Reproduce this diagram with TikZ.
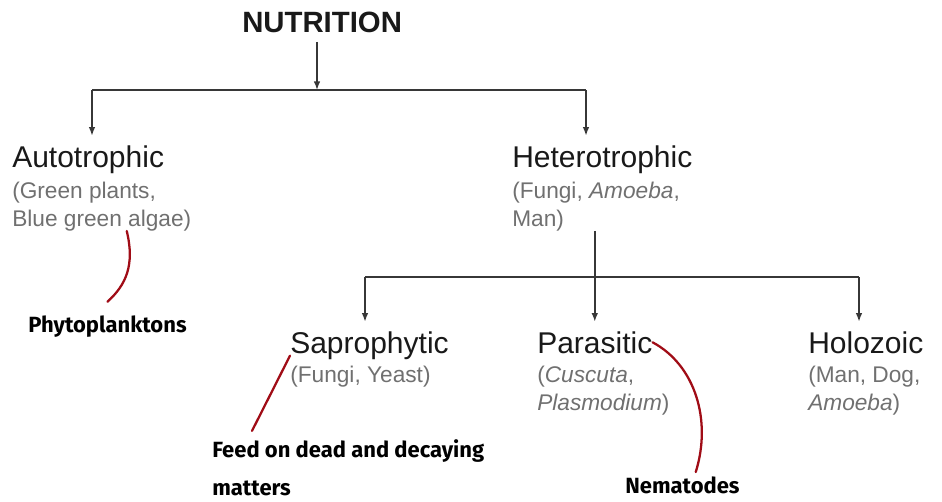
\documentclass[tikz,border=0pt]{standalone}
\usepackage{fontspec}
\setmainfont{Liberation Sans}
\newfontfamily\handfont{Fira Sans}
\usepackage{tikz}
\usetikzlibrary{arrows.meta,positioning}
\definecolor{linegray}{RGB}{55,55,55}
\definecolor{subgray}{RGB}{112,112,112}
\definecolor{notered}{RGB}{160,12,22}

\begin{document}
\begin{tikzpicture}[x=0.75pt,y=-0.75pt,
    head/.style={anchor=base west,inner xsep=0pt,inner ysep=7pt,text=black!90,
        font=\fontsize{22.5}{27}\selectfont},
    sub/.style={anchor=base west,inner sep=0pt,align=left,text=subgray,
        font=\fontsize{17}{21}\selectfont},
    hand/.style={anchor=base west,inner sep=0pt,align=left,
        font=\handfont\bfseries\fontsize{16.5}{28.5}\selectfont},
    link/.style={draw=linegray,line width=1.1pt},
    tip/.style={link,-{Latex[length=6.5pt,width=5pt]}},
    tie/.style={draw=notered,line width=1.7pt,line cap=round}]
    \useasboundingbox (0,0) rectangle (942,501);

    % Top
    \node[head,font=\bfseries\fontsize{22}{26}\selectfont] (nut) at (242,32) {NUTRITION};

    % Level 1 (multi-line nodes sit on their last baseline)
    \node[head] (auto) at (12,167) {Autotrophic};
    \node[sub] (asub) at (12,226) {(Green plants,\\Blue green algae)};
    \node[head] (hetero) at (512,167) {Heterotrophic};
    \node[sub] (hsub) at (512,226) {(Fungi, \textit{Amoeba},\\Man)};

    \coordinate (top) at (317,90);
    \coordinate (lft) at (92,90);
    \coordinate (rgt) at (586,90);
    \draw[tip] (nut.south -| top) -- (top);
    \draw[link] (lft) -- (rgt);
    \draw[tip] (lft) -- (auto.north -| lft);
    \draw[tip] (rgt) -- (hetero.north -| rgt);

    % Level 2
    \node[head] (sap) at (290,353) {Saprophytic};
    \node[sub] (ssub) at (290,382) {(Fungi, Yeast)};
    \node[head] (para) at (537,353) {Parasitic};
    \node[sub] (psub) at (537,410) {(\textit{Cuscuta},\\\textit{Plasmodium})};
    \node[head] (holo) at (808,353) {Holozoic};
    \node[sub] (hosub) at (808,410) {(Man, Dog,\\\textit{Amoeba})};

    \coordinate (bl) at (365,277);
    \coordinate (br) at (859,277);
    \draw[tip] (hsub.south -| para.north) -- (para.north);
    \draw[link] (bl) -- (br);
    \draw[tip] (bl) -- (sap.north -| bl);
    \draw[tip] (br) -- (holo.north -| br);

    % Notes
    \node[hand] (phyto) at (28,332) {Phytoplanktons};
    \node[hand] (feed) at (212,495) {Feed on dead and decaying\\matters};
    \node[hand] (nema) at (625,493) {Nematodes};

    \draw[tie] ([xshift=18.75pt]asub.south) .. controls (135,265) and (126,285) .. ([yshift=10pt]phyto.north);
    \draw[tie] ([yshift=-2pt]sap.base west) -- ([xshift=30pt,yshift=6pt]feed.north west);
    \draw[tie] (para.east) .. controls (695,365) and (712,420) .. ([xshift=10pt,yshift=3pt]nema.north);
\end{tikzpicture}
\end{document}
